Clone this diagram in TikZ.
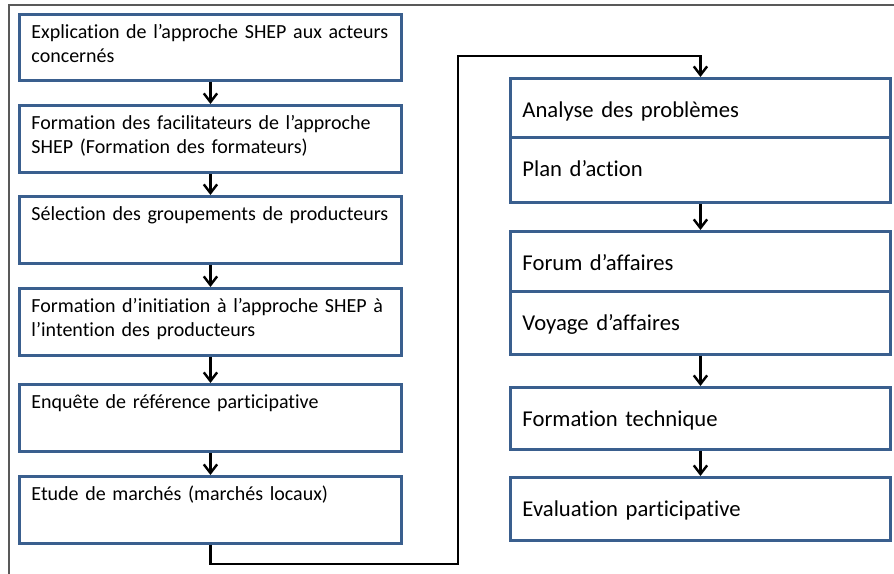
\documentclass[tikz,border=0pt]{standalone}
\usepackage{fontspec}
\setmainfont{Carlito}[Ligatures=NoCommon]
\usetikzlibrary{arrows.meta}
\definecolor{boxblue}{HTML}{3A5F8E}

\tikzset{
  etape/.style={draw=boxblue, line width=2.2pt, anchor=north west, inner xsep=9pt, inner ysep=0pt, align=left},
  gauche/.style={etape, text width=268.5pt, font=\fontsize{15}{18}\selectfont, text height=18pt, text depth=32.25pt},
  droite/.style={etape, text width=267pt, font=\fontsize{17}{20}\selectfont, text height=29.25pt},
  fleche/.style={-{Straight Barb[length=6.5pt,width=10pt,line width=1.8pt]}, line width=1.6pt},
}

\begin{document}
\begin{tikzpicture}[x=0.75pt,y=-0.75pt]
\useasboundingbox (0,0) rectangle (894,574);
% cadre
\draw[line width=1.1pt, black!65] (894,5) -- (9,5) -- (9,574);

% colonne de gauche
\node[gauche, text depth=31.5pt] (e1) at (18,13) {Explication de l’approche SHEP aux acteurs\\concernés};
\node[gauche] (e2) at (18,104) {Formation des facilitateurs de l’approche\\SHEP (Formation des formateurs)};
\node[gauche] (e3) at (18,195) {Sélection des groupements de producteurs};
\node[gauche] (e4) at (18,287) {Formation d’initiation à l’approche SHEP à\\l’intention des producteurs};
\node[gauche] (e5) at (18,383) {Enquête de référence participative};
\node[gauche] (e6) at (18,475) {Etude de marchés (marchés locaux)};

% colonne de droite
\node[droite, text depth=15pt] (d1) at (509,77) {Analyse des problèmes};
\node[droite, text depth=19.5pt] (d2) at (509,136) {Plan d’action};
\node[droite, text depth=15.75pt] (d3) at (509,230) {Forum d’affaires};
\node[droite, text depth=18pt] (d4) at (509,290) {Voyage d’affaires};
\node[droite, text depth=17.25pt] (d5) at (509,386) {Formation technique};
\node[droite, text depth=18pt] (d6) at (509,476) {Evaluation participative};

\draw[fleche] (e1) -- (e2);
\draw[fleche] (e2) -- (e3);
\draw[fleche] (e3) -- (e4);
\draw[fleche] (e4) -- (e5);
\draw[fleche] (e5) -- (e6);

\coordinate (c1) at (458,564);
\coordinate (c2) at (458,56);
\draw[fleche] (e6.south) |- (c1) -- (c2) -| (d1.north);

\draw[fleche] (d2) -- (d3);
\draw[fleche] (d4) -- (d5);
\draw[fleche] (d5) -- (d6);
\end{tikzpicture}
\end{document}
